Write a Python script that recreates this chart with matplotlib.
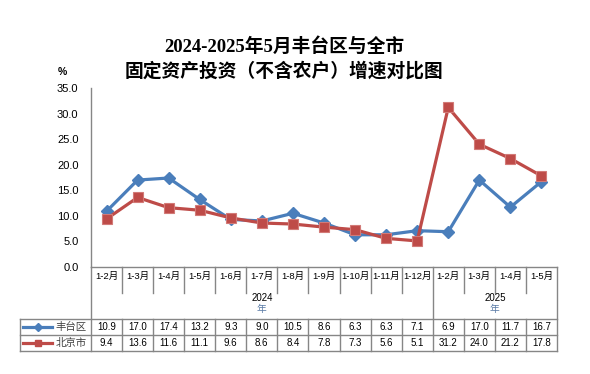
import matplotlib
matplotlib.use("Agg")
import matplotlib.pyplot as plt
from matplotlib.lines import Line2D

categories = ["1-2月", "1-3月", "1-4月", "1-5月", "1-6月", "1-7月", "1-8月", "1-9月",
              "1-10月", "1-11月", "1-12月", "1-2月", "1-3月", "1-4月", "1-5月"]
years = ["2024", "2025"]
year_counts = [11, 4]
series_names = ["丰台区", "北京市"]
fengtai = [10.9, 17.0, 17.4, 13.2, 9.3, 9.0, 10.5, 8.6, 6.3, 6.3, 7.1, 6.9, 17.0, 11.7, 16.7]
beijing = [9.4, 13.6, 11.6, 11.1, 9.6, 8.6, 8.4, 7.8, 7.3, 5.6, 5.1, 31.2, 24.0, 21.2, 17.8]
yticks = [0, 5, 10, 15, 20, 25, 30, 35]

W, H = 590, 374
def fx(p): return p / W
def fy(p): return 1 - p / H

CJK = ["Liberation Sans", "Noto Sans CJK SC"]
TITLE = ["Liberation Serif", "Noto Sans CJK SC"]
GRAY = "#868686"
BLUE = "#4A7EBB"
RED = "#BE4B48"

fig = plt.figure(figsize=(W / 100, H / 100), dpi=100)
fig.patch.set_facecolor("white")

x0, x1, ytop, ybot = 91, 557, 88, 267
ax = fig.add_axes([fx(x0), fy(ybot), fx(x1) - fx(x0), fy(ytop) - fy(ybot)])
n = len(categories)
xs = list(range(n))
ax.plot(xs, fengtai, color=BLUE, lw=2.3, marker="D", ms=6, mfc=BLUE, mec=BLUE, zorder=3)
ax.plot(xs, beijing, color=RED, lw=2.3, marker="s", ms=7, mfc=RED, mec="#D27A77", mew=0.8, zorder=3)
ax.set_xlim(-0.5, n - 0.5)
ax.set_ylim(0, 35)
ax.set_yticks(yticks)
ax.set_yticklabels([f"{v:.1f}" for v in yticks], fontsize=8, family="Liberation Sans", color="#000000")
ax.tick_params(axis="y", length=0, pad=9)
ax.set_xticks([])
for s in ["top", "right"]:
    ax.spines[s].set_visible(False)
for s in ["left", "bottom"]:
    ax.spines[s].set_color(GRAY)
    ax.spines[s].set_linewidth(1.0)

# Title and unit
fig.text(fx(284), fy(47), "2024-2025年5月丰台区与全市", ha="center", va="center",
         fontsize=13.5, fontweight="bold", family=TITLE)
fig.text(fx(284), fy(71), "固定资产投资（不含农户）增速对比图", ha="center", va="center",
         fontsize=13.5, fontweight="bold", family=TITLE)
fig.text(fx(62), fy(72), "%", ha="center", va="center", fontsize=7.5, fontweight="bold", family="Liberation Sans")

# Table
cw = (x1 - x0) / n
def line(xa, ya, xb, yb):
    fig.add_artist(Line2D([fx(xa), fx(xb)], [fy(ya), fy(yb)], color=GRAY, lw=1.0))

t_top, t_cat, t_rows, t_mid, t_bot = 267, 293, 319, 335, 351
line(x0, ybot, x0, t_bot)
line(x1, t_top, x1, t_bot)
line(20, t_rows, x1, t_rows)
line(20, t_mid, x1, t_mid)
line(20, t_bot, x1, t_bot)
line(20, t_rows, 20, t_bot)
split = year_counts[0]
for k in range(1, n):
    xb = x0 + k * cw
    if k == split:
        line(xb, t_top, xb, t_bot)
    else:
        line(xb, t_top, xb, t_cat)
        line(xb, t_rows, xb, t_bot)

for i, c in enumerate(categories):
    cx = x0 + (i + 0.5) * cw
    fig.text(fx(cx), fy(276), c, ha="center", va="center", fontsize=6.8, family=CJK)
    fig.text(fx(cx), fy(327), f"{fengtai[i]:.1f}", ha="center", va="center", fontsize=7, family="Liberation Sans")
    fig.text(fx(cx), fy(343), f"{beijing[i]:.1f}", ha="center", va="center", fontsize=7, family="Liberation Sans")

start = 0
for yr, cnt in zip(years, year_counts):
    cx = x0 + (start + cnt / 2) * cw
    fig.text(fx(cx), fy(298), yr, ha="center", va="center", fontsize=7, family="Liberation Sans")
    fig.text(fx(cx), fy(309), "年", ha="center", va="center", fontsize=7, family=CJK, color="#5A7BA6")
    start += cnt

# Legend keys in the table
for name, yc, col, mk, ms in [(series_names[0], 327, BLUE, "D", 4), (series_names[1], 343, RED, "s", 5)]:
    fig.add_artist(Line2D([fx(23), fx(52)], [fy(yc), fy(yc)], color=col, lw=2.3))
    fig.add_artist(Line2D([fx(37.5)], [fy(yc)], color=col, marker=mk, ms=ms, mfc=col, mec=col))
    fig.text(fx(71.5), fy(yc), name, ha="center", va="center", fontsize=7.5, family=CJK, color="#404040")

fig.savefig("out.png", dpi=100, facecolor="white")
